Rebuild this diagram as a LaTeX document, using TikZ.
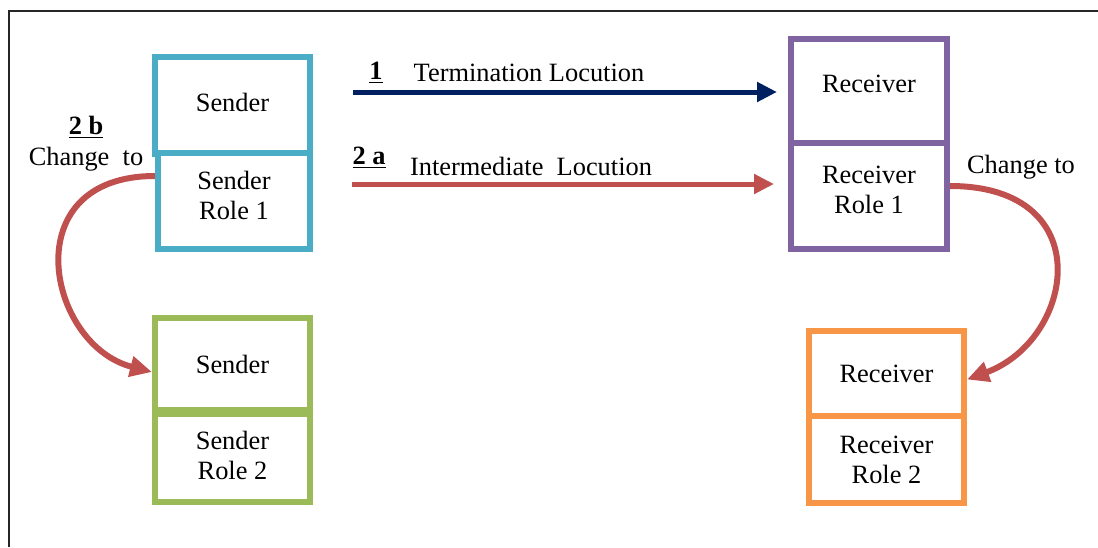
\documentclass[tikz,border=0pt]{standalone}
\usepackage{fontspec}
\setmainfont{Liberation Serif}
\usepackage{xcolor}
\usepackage{tikz}
\usetikzlibrary{positioning,arrows.meta,calc}
\definecolor{sendcyan}{HTML}{4BACC6}
\definecolor{sendgreen}{HTML}{9BBB59}
\definecolor{recvpurple}{HTML}{8064A2}
\definecolor{recvorange}{HTML}{F79646}
\definecolor{changered}{HTML}{C0504D}
\definecolor{termblue}{HTML}{002060}
\newcommand{\labfont}{\fontsize{13.2}{15}\selectfont}

\begin{document}
\begin{tikzpicture}[x=0.5pt,y=-0.5pt,
  box/.style={draw,line width=3pt,fill=white,inner sep=0pt,align=center,font=\labfont},
  lab/.style={font=\labfont,inner sep=0pt},
  flow/.style={line width=2.5pt,-{Triangle[length=10pt,width=9.5pt]}},
  rolechg/.style={line width=3pt,draw=changered,-{Triangle[length=11pt,width=10pt]}}]
  \useasboundingbox (0,0) rectangle (1098,547);
  % frame
  \draw[line width=0.8pt,black!85] (9,547) -- (9,11) -- (1098,11);
  % sender (role 1)
  \node[box,draw=sendcyan,minimum width=77.5pt,minimum height=48.5pt,text depth=3pt] (snd) at (232.5,105) {Sender};
  \node[box,draw=sendcyan,minimum width=76pt,minimum height=48pt,text depth=6pt] (sndr1) at (234,201) {Sender\\Role 1};
  % sender (role 2)
  \node[box,draw=sendgreen,minimum width=77.5pt,minimum height=46pt] (snd2) at (232.5,364) {Sender};
  \node[box,draw=sendgreen,minimum width=77.5pt,minimum height=44pt,text depth=3pt] (sndr2) at (232.5,458) {Sender\\Role 2};
  % receiver (role 1)
  \node[box,draw=recvpurple,minimum width=78pt,minimum height=52.5pt,text depth=8pt] (rcv) at (869,91.5) {Receiver};
  \node[box,draw=recvpurple,minimum width=78pt,minimum height=53pt,text depth=6pt] (rcvr1) at (869,196) {Receiver\\Role 1};
  % receiver (role 2)
  \node[box,draw=recvorange,minimum width=77.5pt,minimum height=42.5pt] (rcv2) at (886.5,373.5) {Receiver};
  \node[box,draw=recvorange,minimum width=77.5pt,minimum height=43.5pt] (rcvr2) at (886.5,459.5) {Receiver\\Role 2};
  % locutions
  \coordinate (t1) at (353,92);
  \coordinate (t2a) at (352,184);
  \draw[flow,draw=termblue,shorten >=5.5pt] (t1) -- (t1 -| rcv.west);
  \draw[flow,draw=changered,shorten >=7pt] (t2a) -- (t2a -| rcvr1.west);
  \node[lab] (n1) at (376,73) {\textbf{\underline{1}}};
  \node[lab] (term) at (529,73) {Termination Locution};
  \node[lab] (n2a) at (369,158) {\textbf{\underline{2 a}}};
  \node[lab] (inter) at (531,166) {Intermediate\ \ Locution};
  % role changes
  \draw[rolechg] ([yshift=12.5pt]sndr1.west) .. controls +(-142,0) and +(-105,-27) .. ([yshift=-4pt]snd2.west);
  \draw[rolechg] ([yshift=5pt]rcvr1.east) .. controls +(150,0) and +(108,-40) .. ([yshift=-3pt]rcv2.east);
  \node[lab] (n2b) at (86,127) {\textbf{\underline{2 b}}};
  \node[lab] (chgl) at (86,159) {Change\ \ to};
  \node[lab] (chgr) at (1021,167) {Change to};
\end{tikzpicture}
\end{document}
